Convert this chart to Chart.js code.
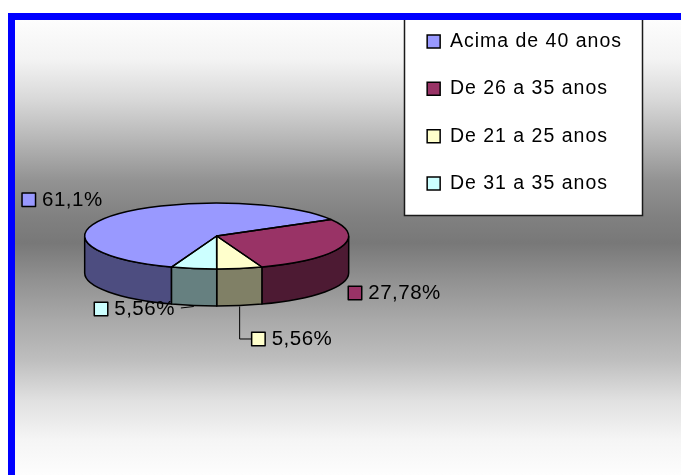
<!DOCTYPE html>
<html><head><meta charset="utf-8">
<script src="https://cdn.jsdelivr.net/npm/chart.js@4/dist/chart.umd.min.js"></script>
<style>html,body{margin:0;padding:0;background:#fff;}canvas{display:block;}</style>
</head><body>
<canvas id="c" width="681" height="475"></canvas>
<script>
// ---- data ----
const categories = ['Acima de 40 anos', 'De 26 a 35 anos', 'De 21 a 25 anos', 'De 31 a 35 anos'];
const values = [61.1, 27.78, 5.56, 5.56];
const valueLabels = ['61,1%', '27,78%', '5,56%', '5,56%'];
const topColors = ['#9999ff', '#993366', '#ffffcc', '#ccffff'];
const sideColors = ['#4d4d80', '#4d1a33', '#808066', '#668080'];

// ---- layout / style ----
const PIE_RY = 33, PIE_DEPTH = 37;
const LEGEND_SPACING = '1px';
const labelLayout = [
  {dx: -93.5, dy: -15},
  {dx: 7.5, dy: 45.7},
  {dx: 12, dy: 70.5, leader: 'elbow'},
  {dx: -99.5, dy: 40.5, leader: 'text'}
];
const bgStops = [
  [20, '#fdfdfd'], [60, '#f3f3f3'], [100, '#d8d8d8'], [140, '#b6b6b6'], [180, '#939393'],
  [215, '#818181'], [243, '#787878'], [280, '#919191'], [320, '#a9a9a9'], [360, '#bebebe'],
  [400, '#e0e0e0'], [440, '#f5f5f5'], [475, '#fdfdfd']
];
const FONT = '"Liberation Sans", Arial, Helvetica, sans-serif';
Chart.defaults.font.family = FONT;

const pie3d = {
  id: 'pie3d',
  beforeLayout(chart) { chart.ctx.letterSpacing = LEGEND_SPACING; },
  beforeDraw(chart) {
    const ctx = chart.ctx, W = chart.width, H = chart.height;
    ctx.save();
    ctx.fillStyle = '#fff'; ctx.fillRect(0, 0, W, H);
    const g = ctx.createLinearGradient(0, 20, 0, H);
    bgStops.forEach(([yy, c]) => g.addColorStop((yy - 20) / (H - 20), c));
    ctx.fillStyle = g; ctx.fillRect(15, 20, W - 15, H - 20);
    // legend frame
    const hb = chart.legend.legendHitBoxes;
    const last = hb[hb.length - 1];
    const bx = Math.round(hb[0].left - 23) + 0.5, by = 18.5;
    const bw = 238, bh = Math.round(last.top + last.height + 22 - by);
    ctx.fillStyle = '#fff'; ctx.fillRect(bx, by, bw, bh);
    ctx.strokeStyle = '#1a1a1a'; ctx.lineWidth = 1.5; ctx.strokeRect(bx, by, bw, bh);
    // blue frame
    ctx.fillStyle = '#0000ff';
    ctx.fillRect(8, 13, W - 8, 7);
    ctx.fillRect(8, 13, 7, H - 13);
    ctx.restore();
    ctx.letterSpacing = LEGEND_SPACING;
  },
  beforeDatasetsDraw(chart) {
    const ctx = chart.ctx, arcs = chart.getDatasetMeta(0).data;
    const {x, y, outerRadius: R} = arcs[0];
    ctx.save();
    ctx.lineWidth = 1.5; ctx.strokeStyle = '#000'; ctx.lineJoin = 'round';
    arcs.forEach((arc, i) => {
      for (const shift of [-2 * Math.PI, 0, 2 * Math.PI]) {
        const a = Math.max(arc.startAngle + shift, 0), b = Math.min(arc.endAngle + shift, Math.PI);
        if (b - a > 1e-6) {
          ctx.beginPath();
          ctx.ellipse(x, y, R, PIE_RY, 0, a, b);
          ctx.ellipse(x, y + PIE_DEPTH, R, PIE_RY, 0, b, a, true);
          ctx.closePath();
          ctx.fillStyle = sideColors[i]; ctx.fill(); ctx.stroke();
        }
      }
    });
    ctx.restore();
    ctx.save();
    ctx.translate(x, y); ctx.scale(1, PIE_RY / R); ctx.translate(-x, -y);
  },
  afterDatasetsDraw(chart) {
    const ctx = chart.ctx, arcs = chart.getDatasetMeta(0).data;
    ctx.restore();
    const {x, y, outerRadius: R} = arcs[0];
    ctx.save();
    ctx.lineWidth = 1.5; ctx.strokeStyle = '#000'; ctx.lineJoin = 'round';
    arcs.forEach(arc => {
      ctx.beginPath(); ctx.moveTo(x, y);
      ctx.ellipse(x, y, R, PIE_RY, 0, arc.startAngle, arc.endAngle);
      ctx.closePath(); ctx.stroke();
    });
    ctx.font = '20.5px ' + FONT;
    ctx.letterSpacing = '0.5px';
    ctx.textBaseline = 'middle'; ctx.textAlign = 'left';
    arcs.forEach((arc, i) => {
      const m = (arc.startAngle + arc.endAngle) / 2;
      const mx = x + R * Math.cos(m), my = y + PIE_RY * Math.sin(m);
      const L = labelLayout[i];
      const kx = mx + L.dx, ky = my + L.dy;
      ctx.lineWidth = 1; ctx.strokeStyle = '#000';
      if (L.leader === 'elbow') {
        ctx.beginPath(); ctx.moveTo(mx, my + PIE_DEPTH + 1); ctx.lineTo(mx, ky); ctx.lineTo(kx, ky); ctx.stroke();
      } else if (L.leader === 'text') {
        const tw = ctx.measureText(valueLabels[i]).width;
        ctx.beginPath(); ctx.moveTo(mx, my + PIE_DEPTH + 1); ctx.lineTo(kx + 20 + tw + 6, ky - 1); ctx.stroke();
      }
      ctx.fillStyle = topColors[i];
      ctx.fillRect(kx, ky - 6.75, 13.5, 13.5);
      ctx.lineWidth = 1.5; ctx.strokeRect(kx, ky - 6.75, 13.5, 13.5);
      ctx.fillStyle = '#000';
      ctx.fillText(valueLabels[i], kx + 20, ky + 0.5);
    });
    ctx.restore();
    ctx.letterSpacing = LEGEND_SPACING;
  }
};

new Chart(document.getElementById('c'), {
  type: 'pie',
  data: {
    labels: categories,
    datasets: [{ data: values, backgroundColor: topColors, borderWidth: 0, hoverOffset: 0 }]
  },
  options: {
    responsive: false,
    animation: false,
    events: [],
    rotation: 200,
    radius: 132,
    layout: { padding: { left: 34, right: 49, top: 4, bottom: 7 } },
    plugins: {
      tooltip: { enabled: false },
      legend: {
        position: 'right',
        align: 'start',
        labels: {
          color: '#000',
          font: { size: 19.5 },
          boxWidth: 13,
          boxHeight: 13,
          padding: 27.8,
          generateLabels(chart) {
            const items = Chart.overrides.doughnut.plugins.legend.labels.generateLabels(chart);
            return items.map(it => Object.assign(it, { lineWidth: 1.5, strokeStyle: '#000' }));
          }
        }
      }
    }
  },
  plugins: [pie3d]
});
</script>
</body></html>
